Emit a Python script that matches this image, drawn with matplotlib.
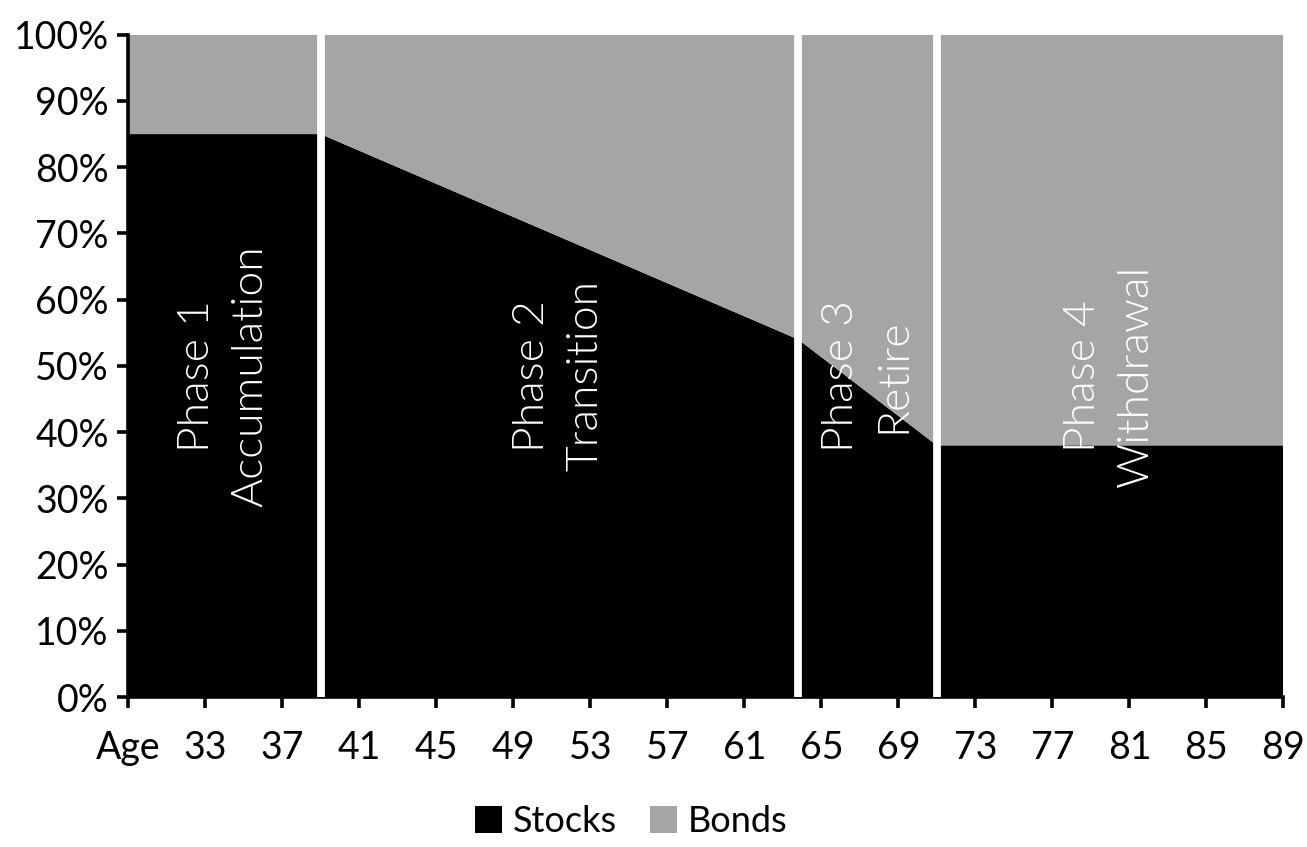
import matplotlib
matplotlib.use("Agg")
import matplotlib.pyplot as plt
from matplotlib.patches import Patch

# ---- data ----
ages = [29, 39, 63.8, 71, 89]
stocks = [85, 85, 54, 38, 38]
bonds = [15, 15, 46, 62, 62]
phase_bounds = [39, 63.8, 71]
phase_titles = ["Phase 1", "Phase 2", "Phase 3", "Phase 4"]
phase_names = ["Accumulation", "Transition", "Retire", "Withdrawal"]
tick_ages = list(range(29, 90, 4))
tick_labels = ["Age"] + [str(a) for a in tick_ages[1:]]
y_ticks = list(range(0, 101, 10))
y_labels = [f"{v}%" for v in y_ticks]

plt.rcParams['font.family'] = ['Lato', 'DejaVu Sans']

STOCK_C = "#000000"
BOND_C = "#a6a5a6"

fig = plt.figure(figsize=(13.07, 8.47), dpi=100)
ax = fig.add_axes([0.098, 0.177, 0.884, 0.782])

ax.stackplot(ages, stocks, bonds, colors=[STOCK_C, BOND_C], linewidth=0)

for b in phase_bounds:
    ax.axvline(b, color="white", lw=5.6, zorder=3)

edges = [ages[0]] + phase_bounds + [ages[-1]]
for i, (t, n) in enumerate(zip(phase_titles, phase_names)):
    xm = (edges[i] + edges[i + 1]) / 2
    ax.text(xm, 48.5, f"{t}\n{n}", rotation=90, color="white",
            ha="center", va="center", multialignment="center",
            fontsize=32, fontweight=300, linespacing=1.45, zorder=4)

ax.set_xlim(ages[0], ages[-1])
ax.set_ylim(0, 100)
ax.set_xticks(tick_ages)
ax.set_xticklabels(tick_labels)
ax.set_yticks(y_ticks)
ax.set_yticklabels(y_labels)

for s in ["top", "right"]:
    ax.spines[s].set_visible(False)
ax.spines["left"].set_linewidth(2.6)
ax.spines["bottom"].set_linewidth(2.6)
ax.tick_params(axis="both", direction="out", length=8, width=2.6,
               labelsize=27, colors="black")
ax.tick_params(axis="x", pad=16)
ax.tick_params(axis="y", pad=6)

handles = [Patch(facecolor=STOCK_C, label="Stocks"),
           Patch(facecolor=BOND_C, label="Bonds")]
fig.legend(handles=handles, loc="lower center", bbox_to_anchor=(0.483, -0.028),
           ncol=2, frameon=False, fontsize=26, handlelength=0.75,
           handleheight=0.75, handletextpad=0.3, columnspacing=0.9)

fig.savefig("out.png", dpi=100)
